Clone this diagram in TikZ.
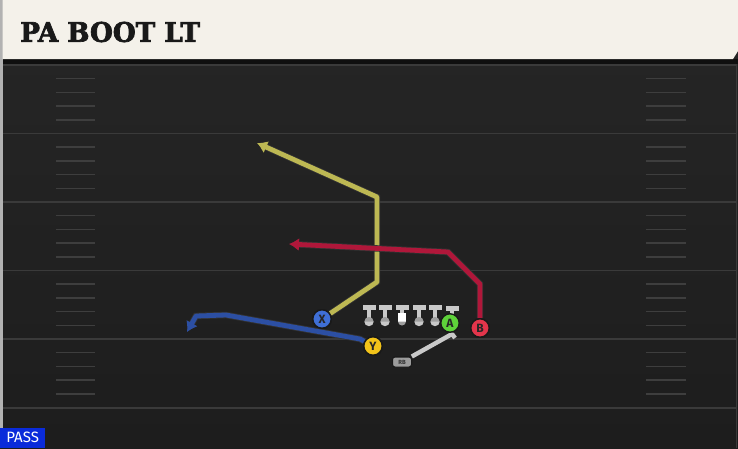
\documentclass[tikz,border=0pt]{standalone}
\usepackage{fontspec}
\setsansfont{Fira Sans}
\newfontfamily\slabfont{DejaVu Serif Condensed}[BoldFeatures={FakeBold=2.5}]
\usetikzlibrary{positioning,arrows.meta}

\definecolor{fieldtop}{HTML}{262626}
\definecolor{fieldbot}{HTML}{1D1D1D}
\definecolor{yardline}{HTML}{3A3A3A}
\definecolor{hashline}{HTML}{3E3E3E}
\definecolor{header}{HTML}{F4F1EA}
\definecolor{xblue}{HTML}{3F6FD6}
\definecolor{yyellow}{HTML}{F2C31A}
\definecolor{agreen}{HTML}{5ED23A}
\definecolor{bred}{HTML}{E2354B}
\definecolor{rbgray}{HTML}{9C9C9C}
\definecolor{olive}{HTML}{BDB853}
\definecolor{crimson}{HTML}{B0173A}
\definecolor{navy}{HTML}{2C4FA3}
\definecolor{linegray}{HTML}{C9C9C9}
\definecolor{passblue}{HTML}{0A2BDA}

\begin{document}
\begin{tikzpicture}[x=1pt,y=-1pt,
    player/.style={circle,draw=black!90,line width=1.4pt,fill=#1,minimum size=18.5pt,inner sep=0pt,
      font=\sffamily\bfseries\fontsize{12}{12}\selectfont,text=black!85},
    rbbox/.style={draw=black!90,fill=rbgray,rounded corners=2.5pt,line width=1pt,minimum width=19pt,
      minimum height=10pt,inner sep=0pt,font=\sffamily\bfseries\fontsize{6}{6}\selectfont,text=black!80},
    route/.style={line width=4.8pt,line join=round,draw=#1,
      preaction={draw=black!80,line width=6.4pt}},
    tip/.style={-{Latex[length=10pt,width=13pt]}},
    yard/.style={draw=yardline,line width=1.8pt},
    hash/.style={draw=hashline,line width=1.5pt},
    lineman/.pic={
      \fill[linegray] (-6.5,0) rectangle (6.5,4.5);
      \fill[linegray] (-2.2,4.5) rectangle (2.2,13);
      \fill[gray!75] (0,16.5) circle (4.6);
      \fill[linegray] (-4.6,16.5) arc (180:360:4.6 and -4.6) -- cycle;
    }]
  \useasboundingbox (0,0) rectangle (738,448);

  % field
  \shade[top color=fieldtop,bottom color=fieldbot] (0,0) rectangle (738,448);
  \fill[black!60!fieldtop] (0,59) rectangle (738,64);
  \fill[gray!60] (0,0) rectangle (2.5,448);
  \draw[yardline,line width=1pt] (736.5,64) -- (736.5,448);
  \foreach \y in {65,133.5,202,270.5,339,408}
    \draw[yard] (3,\y) -- (736,\y);
  \foreach \base in {65,133.5,202,270.5,339}
    \foreach \k in {1,...,4} {
      \draw[hash] (56,\base+13.7*\k) -- (95,\base+13.7*\k);
      \draw[hash] (646,\base+13.7*\k) -- (686,\base+13.7*\k);
    }

  % header
  \fill[header] (2.5,0) -- (738,0) -- (738,51) -- (733,59) -- (2.5,59) -- cycle;
  \node[anchor=west,font=\slabfont\bfseries\fontsize{27}{27}\selectfont,text=black!90,
        xscale=1.08,inner sep=0pt] (title) at (20,32) {PA BOOT LT};

  % line
  \pic at (369,305) {lineman};
  \pic at (385,305) {lineman};
  \pic at (419,305) {lineman};
  \pic at (435,305) {lineman};
  \pic at (452,306) {lineman};
  \fill[linegray] (395.5,305) rectangle (408.5,309.5);
  \fill[linegray] (399.8,309.5) rectangle (404.2,313);
  \fill[white] (398,313) rectangle (406,321.5);
  \fill[gray!75] (398,321.5) arc (180:360:4 and -4) -- cycle;

  % routes
  \coordinate (xbend) at (377,282);
  \coordinate (xstem) at (377,197);
  \coordinate (xend) at (257,143);
  \coordinate (bstem) at (480,284);
  \coordinate (bbend) at (448,252);
  \coordinate (bend) at (289,244);
  \coordinate (ybend) at (360,339);
  \coordinate (ykink) at (226,315);
  \coordinate (ycorner) at (196,316);
  \coordinate (yend) at (187,332);
  \coordinate (rbend) at (452,334);
  \coordinate (rbhook) at (455,338);

  \node[player=xblue] (X) at (322,319) {X};
  \node[player=yyellow] (Y) at (373,346) {Y};
  \node[player=bred] (B) at (480,328) {B};
  \node[rbbox] (RB) at (402,362) {RB};

  \draw[route=olive,tip] (X) -- (xbend) -- (xstem) -- (xend);
  \draw[route=crimson,tip] (B) -- (bstem) -- (bbend) -- (bend);
  \draw[route=navy,tip] (Y) -- (ybend) -- (ykink) -- (ycorner) -- (yend);
  \draw[line width=4.4pt,linegray,line join=round] (RB) -- (rbend) -- (rbhook);

  \node[player=xblue] at (X) {X};
  \node[player=yyellow] at (Y) {Y};
  \node[player=bred] at (B) {B};
  \node[player=agreen] (A) at (450,323) {A};
  \node[rbbox] at (RB) {RB};

  % play type
  \node[fill=passblue,text=white,anchor=south west,minimum width=45pt,minimum height=20pt,
        inner sep=0pt,font=\sffamily\fontsize{15}{15}\selectfont] (type) at (0,448) {PASS};
\end{tikzpicture}
\end{document}
